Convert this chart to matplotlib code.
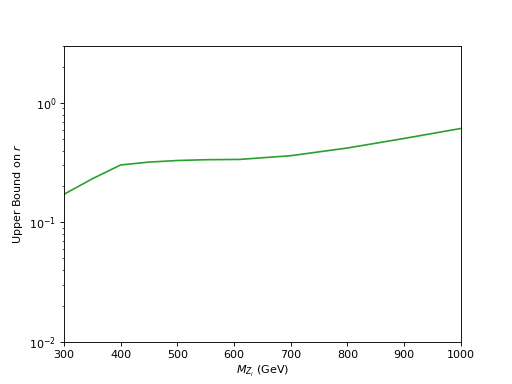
import matplotlib
matplotlib.use("Agg")
import matplotlib.pyplot as plt

# Upper bound on r vs Z_l mass
mass = [300, 350, 400, 450, 500, 550, 610, 700, 800, 900, 1000]
upper_r = [0.172, 0.232, 0.303, 0.320, 0.330, 0.335, 0.337, 0.362, 0.420, 0.505, 0.612]

fig = plt.figure(figsize=(6.4, 4.8), dpi=80)
ax = fig.add_subplot(111)
ax.plot(mass, upper_r, color='tab:green')
ax.set_yscale('log')
ax.set_xlim(300, 1000)
ax.set_ylim(1e-2, 3)
ax.set_xlabel(r'$M_{Z_l}$ (GeV)')
ax.set_ylabel(r'Upper Bound on $r$')

fig.savefig('out.png', dpi=80)
